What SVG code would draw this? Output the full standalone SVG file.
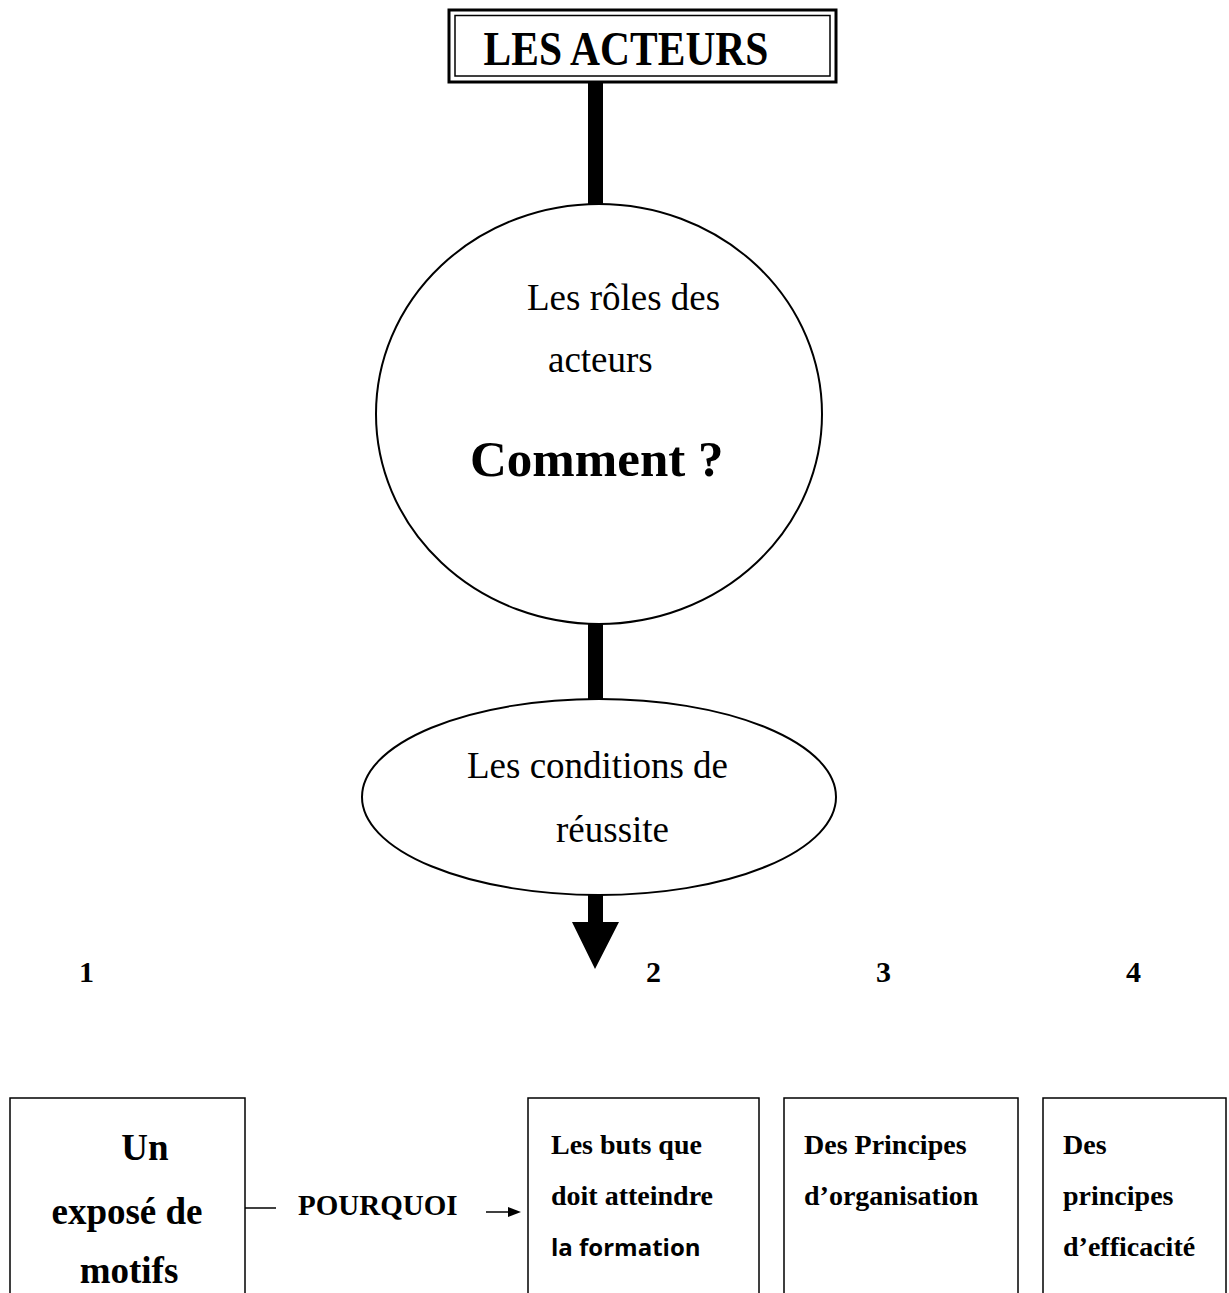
<svg xmlns="http://www.w3.org/2000/svg" width="1229" height="1293" viewBox="0 0 1229 1293">
<style>
.t{font-family:"Liberation Serif","Times New Roman",serif;fill:#000}
.b{font-weight:bold}
.s{font-family:"Open Sans","Liberation Sans",sans-serif;font-weight:bold;fill:#000}
.box{fill:#fff;stroke:#000;stroke-width:1.5}
.shape{fill:#fff;stroke:#000;stroke-width:2}
</style>
<rect width="1229" height="1293" fill="#fff"/>
<g id="connectors">
<rect x="588" y="80" width="15" height="125" fill="#000"/>
<rect x="588" y="622" width="15" height="78" fill="#000"/>
<path d="M588,895 H603 V922 H619 L595,969 L572,922 H588 Z" fill="#000"/>
<line x1="245" y1="1208" x2="276" y2="1208" stroke="#000" stroke-width="1.5"/>
<line x1="486" y1="1212" x2="510" y2="1212" stroke="#000" stroke-width="1.5"/>
<path d="M508,1207 L521,1212 L508,1217 Z" fill="#000"/>
</g>
<g id="title">
<rect x="449" y="10" width="387" height="72" fill="#fff" stroke="#000" stroke-width="3"/>
<rect x="455" y="15.5" width="375" height="60.5" fill="none" stroke="#000" stroke-width="1.5"/>
<text class="t b" x="626" y="65" font-size="41.5" text-anchor="middle" transform="translate(626,65) scale(1,1.15) translate(-626,-65)">LES ACTEURS</text>
</g>
<g id="roles">
<ellipse class="shape" cx="599" cy="414" rx="223" ry="210"/>
<text class="t" x="527" y="310" font-size="37">Les rôles des</text>
<text class="t" x="548" y="372" font-size="37">acteurs</text>
<text class="t b" x="470" y="476" font-size="51">Comment ?</text>
</g>
<g id="conditions">
<ellipse class="shape" cx="599" cy="797" rx="237" ry="98"/>
<text class="t" x="467" y="778" font-size="37">Les conditions de</text>
<text class="t" x="556" y="842" font-size="37">réussite</text>
</g>
<g id="numbers">
<text class="t b" x="79" y="982" font-size="30">1</text>
<text class="t b" x="646" y="982" font-size="30">2</text>
<text class="t b" x="876" y="982" font-size="30">3</text>
<text class="t b" x="1126" y="982" font-size="30">4</text>
</g>
<g id="motifs">
<rect class="box" x="10" y="1098" width="235" height="210"/>
<text class="t b" x="145" y="1160" font-size="37" text-anchor="middle">Un</text>
<text class="t b" x="127" y="1224" font-size="37" text-anchor="middle">exposé de</text>
<text class="t b" x="129" y="1283" font-size="37" text-anchor="middle">motifs</text>
</g>
<g id="pourquoi">
<text class="t b" x="298" y="1215" font-size="29">POURQUOI</text>
</g>
<g id="buts">
<rect class="box" x="528" y="1098" width="231" height="210"/>
<text class="t b" x="551" y="1154" font-size="28">Les buts que</text>
<text class="t b" x="551" y="1205" font-size="28">doit atteindre</text>
<text class="s" x="551" y="1256" font-size="24">la formation</text>
</g>
<g id="organisation">
<rect class="box" x="784" y="1098" width="234" height="210"/>
<text class="t b" x="804" y="1154" font-size="28">Des Principes</text>
<text class="t b" x="804" y="1205" font-size="28">d’organisation</text>
</g>
<g id="efficacite">
<rect class="box" x="1043" y="1098" width="183" height="210"/>
<text class="t b" x="1063" y="1154" font-size="28">Des</text>
<text class="t b" x="1063" y="1205" font-size="28">principes</text>
<text class="t b" x="1063" y="1256" font-size="28">d’efficacité</text>
</g>
</svg>
